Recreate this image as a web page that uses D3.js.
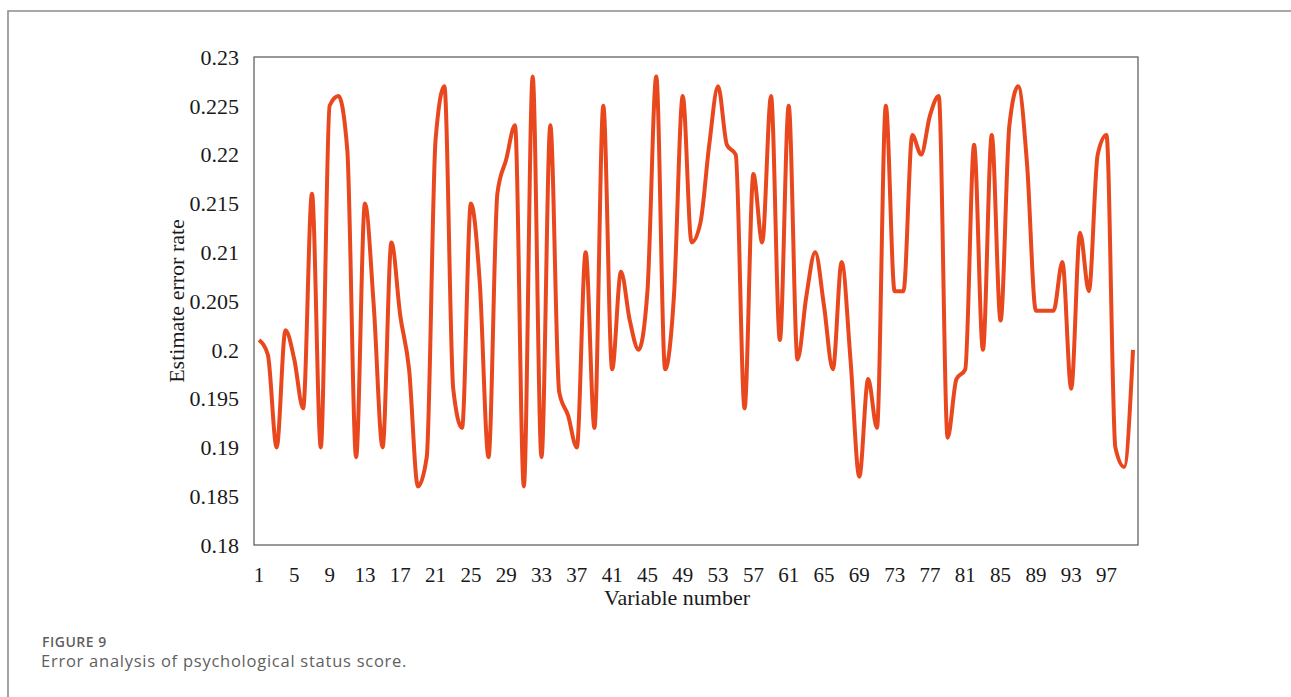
<html>
  <head>
    <meta charset="utf-8">
    <script src="https://d3js.org/d3.v7.min.js"></script>
    <style>
      body {
        margin: 0;
        background: #fff;
      }
      svg {
        display: block;
      }
      .tick-label, .axis-title {
        font-family: "Liberation Serif", "Times New Roman", serif;
        fill: #1a1a1a;
      }
      .caption {
        font-family: "Open Sans", "Noto Sans", sans-serif;
        fill: #5f5f5f;
      }
    </style>
  </head>
  <body>
    <div id="chart"></div>
  </body>

  <script>
    // values, one per variable number (1..100)
    const errorRate = [
      0.201, 0.1995, 0.190, 0.202, 0.199, 0.194, 0.216, 0.190, 0.225, 0.226,
      0.2205, 0.189, 0.215, 0.2045, 0.190, 0.211, 0.2035, 0.198, 0.186, 0.189,
      0.2215, 0.227, 0.196, 0.192, 0.215, 0.207, 0.189, 0.216, 0.2195, 0.223,
      0.186, 0.228, 0.189, 0.223, 0.1957, 0.1933, 0.190, 0.210, 0.192, 0.225,
      0.198, 0.208, 0.203, 0.200, 0.206, 0.228, 0.198, 0.2055, 0.226, 0.211,
      0.213, 0.221, 0.227, 0.221, 0.220, 0.194, 0.218, 0.211, 0.226, 0.201,
      0.225, 0.199, 0.2055, 0.210, 0.2045, 0.198, 0.209, 0.199, 0.187, 0.197,
      0.192, 0.225, 0.206, 0.206, 0.222, 0.220, 0.224, 0.226, 0.191, 0.197,
      0.198, 0.221, 0.200, 0.222, 0.203, 0.223, 0.227, 0.219, 0.204, 0.204,
      0.204, 0.209, 0.196, 0.212, 0.206, 0.220, 0.222, 0.190, 0.188, 0.200
    ]
    const xTicks = [1, 5, 9, 13, 17, 21, 25, 29, 33, 37, 41, 45, 49, 53, 57, 61, 65, 69, 73, 77, 81, 85, 89, 93, 97]
    const yTicks = [0.18, 0.185, 0.19, 0.195, 0.2, 0.205, 0.21, 0.215, 0.22, 0.225, 0.23]
    const yTickLabels = ["0.18", "0.185", "0.19", "0.195", "0.2", "0.205", "0.21", "0.215", "0.22", "0.225", "0.23"]

    const W = 1291, H = 697
    const margin = {top: 57, right: 153, bottom: 152, left: 254},
      width = W - margin.left - margin.right,
      height = H - margin.top - margin.bottom

    const svg = d3.select("#chart")
      .append("svg")
        .attr("width", W)
        .attr("height", H)

    // outer figure frame (top + left only)
    svg.append("path")
      .attr("d", `M8,${H} L8,11 L${W},11`)
      .attr("fill", "none")
      .attr("stroke", "#8c8c8c")
      .attr("stroke-width", 1.6)

    const g = svg.append("g")
      .attr("transform", `translate(${margin.left}, ${margin.top})`)

    const x = d3.scaleLinear()
      .domain([1, 100])
      .range([5, width - 5])

    const y = d3.scaleLinear()
      .domain([0.18, 0.23])
      .range([height, 0])

    // plot box
    g.append("rect")
      .attr("x", 0)
      .attr("y", 0)
      .attr("width", width)
      .attr("height", height)
      .attr("fill", "none")
      .attr("stroke", "#555")
      .attr("stroke-width", 1.2)

    // y tick labels
    g.selectAll(".ylab")
      .data(yTicks)
      .join("text")
        .attr("class", "tick-label")
        .attr("x", -15)
        .attr("y", d => y(d))
        .attr("dy", "0.35em")
        .attr("text-anchor", "end")
        .style("font-size", "22px")
        .text((d, i) => yTickLabels[i])

    // x tick labels
    g.selectAll(".xlab")
      .data(xTicks)
      .join("text")
        .attr("class", "tick-label")
        .attr("x", d => x(d))
        .attr("y", height + 37)
        .attr("text-anchor", "middle")
        .style("font-size", "21px")
        .text(d => d)

    // axis titles
    g.append("text")
      .attr("class", "axis-title")
      .attr("x", width / 2 - 19)
      .attr("y", height + 60)
      .attr("text-anchor", "middle")
      .style("font-size", "22px")
      .text("Variable number")

    g.append("text")
      .attr("class", "axis-title")
      .attr("transform", `translate(-70, ${height / 2}) rotate(-90)`)
      .attr("text-anchor", "middle")
      .style("font-size", "22px")
      .text("Estimate error rate")

    // the series
    const line = d3.line()
      .x((d, i) => x(i + 1))
      .y(d => y(d))
      .curve(d3.curveMonotoneX)

    g.append("path")
      .datum(errorRate)
      .attr("fill", "none")
      .attr("stroke", "#e9481f")
      .attr("stroke-width", 4)
      .attr("stroke-linejoin", "round")
      .attr("d", line)

    // caption
    svg.append("text")
      .attr("class", "caption")
      .attr("x", 42)
      .attr("y", 647)
      .style("font-size", "14px")
      .style("font-weight", 600)
      .style("letter-spacing", "0.5px")
      .text("FIGURE 9")

    svg.append("text")
      .attr("class", "caption")
      .attr("x", 41)
      .attr("y", 667)
      .style("font-size", "16.5px")
      .style("letter-spacing", "0.75px")
      .text("Error analysis of psychological status score.")
  </script>
</html>
